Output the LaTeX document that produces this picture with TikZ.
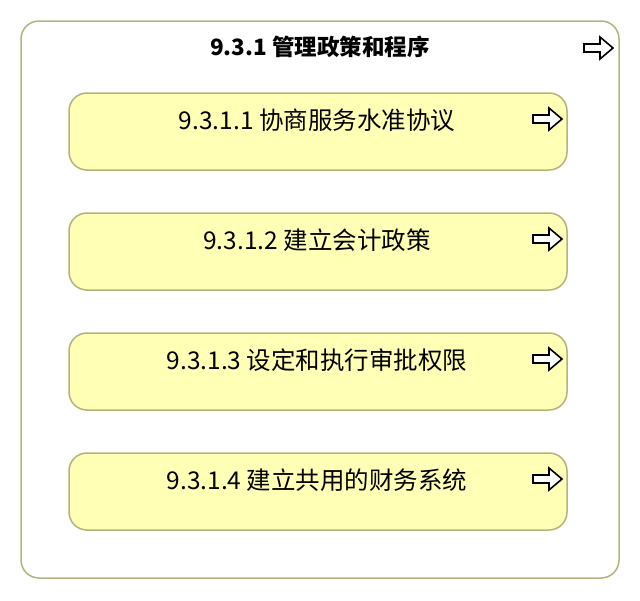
\documentclass[tikz,border=0pt]{standalone}
\usepackage{fontspec}
\newfontfamily\cjk{Noto Sans CJK SC}
\usetikzlibrary{positioning}
\definecolor{boxfill}{HTML}{FFFFB5}
\definecolor{boxline}{HTML}{B3B37D}
\tikzset{
  grp/.style={draw=boxline, line width=1.5pt, fill=white, rounded corners=18pt,
    minimum width=598pt, minimum height=557pt, inner sep=0pt, outer sep=0pt},
  proc/.style={draw=boxline, line width=1.5pt, fill=boxfill, rounded corners=18pt,
    minimum width=498pt, minimum height=77pt, inner sep=0pt, outer sep=0pt},
  lbl/.style={font=\cjk\fontsize{24.5}{28}\selectfont, inner sep=0pt},
  ttl/.style={font=\cjk\bfseries\fontsize{22.5}{26}\selectfont, inner sep=0pt},
  goicon/.pic={
    \draw[line width=1.6pt, line join=miter, fill=white]
      (0,7) -- (16,7) -- (16,0) -- (29,11) -- (16,22) -- (16,15) -- (0,15) -- cycle;
  }
}
\begin{document}
\begin{tikzpicture}[x=1pt, y=-1pt]
\useasboundingbox (0,0) rectangle (640,600);
% group box
\node[grp] (grp) at (320,299.5) {};
\node[ttl] (ttl) at ([yshift=-26pt]grp.north) {9.3.1 管理政策和程序};
\pic at ([xshift=-35pt, yshift=-16pt]grp.north east) {goicon};
% processes
\node[proc] (p1) at (318,131.5) {};
\node[proc, below=43pt of p1] (p2) {};
\node[proc, below=43pt of p2] (p3) {};
\node[proc, below=43pt of p3] (p4) {};
\node[lbl] (t1) at ([xshift=-1pt, yshift=-27pt]p1.north) {9.3.1.1 协商服务水准协议};
\node[lbl] (t2) at ([xshift=-1pt, yshift=-27pt]p2.north) {9.3.1.2 建立会计政策};
\node[lbl] (t3) at ([xshift=-1pt, yshift=-27pt]p3.north) {9.3.1.3 设定和执行审批权限};
\node[lbl] (t4) at ([xshift=-1pt, yshift=-27pt]p4.north) {9.3.1.4 建立共用的财务系统};
\foreach \p in {p1,p2,p3,p4}
  \pic at ([xshift=-34pt, yshift=-15pt]\p.north east) {goicon};
\end{tikzpicture}
\end{document}
